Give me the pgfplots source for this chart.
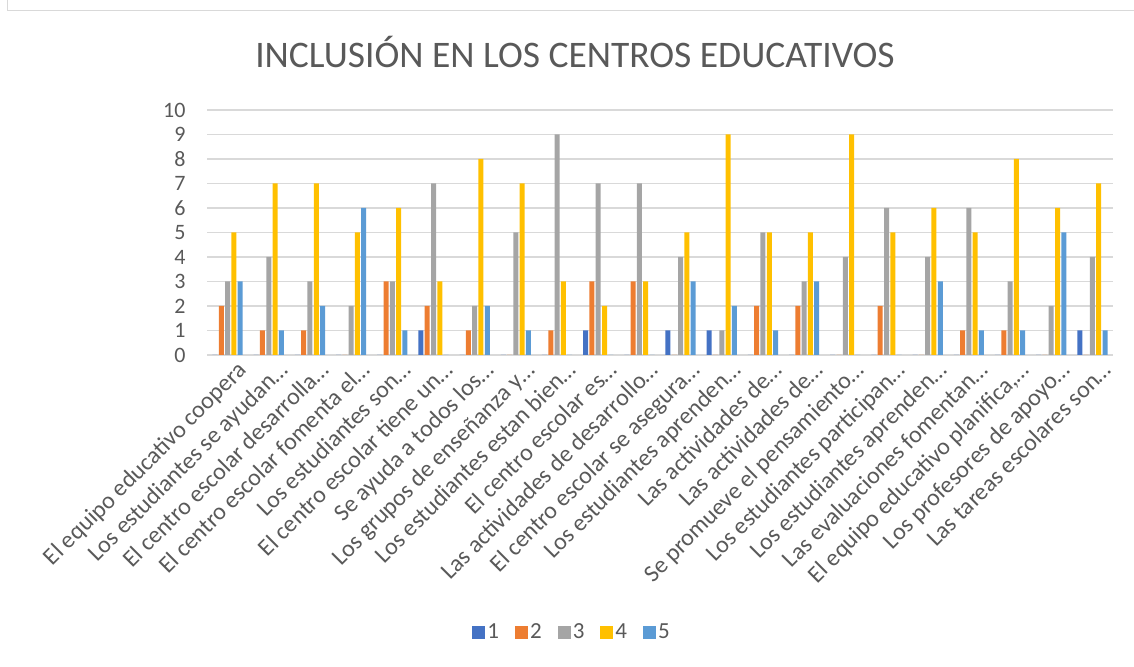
\documentclass[border=0pt]{standalone}
\usepackage{pgfplots}
\pgfplotsset{compat=1.18}
\usepackage{pgfplotstable}
\usepackage{fontspec}
\setmainfont{Carlito}
\definecolor{cA}{HTML}{4472C4}
\definecolor{cB}{HTML}{ED7D31}
\definecolor{cC}{HTML}{A5A5A5}
\definecolor{cD}{HTML}{FFC000}
\definecolor{cE}{HTML}{5B9BD5}
\definecolor{txt}{HTML}{595959}
\definecolor{grd}{HTML}{D9D9D9}
\pgfplotstableread{
x a b c d e
0 0 2 3 5 3
1 0 1 4 7 1
2 0 1 3 7 2
3 0 0 2 5 6
4 0 3 3 6 1
5 1 2 7 3 0
6 0 1 2 8 2
7 0 0 5 7 1
8 0 1 9 3 0
9 1 3 7 2 0
10 0 3 7 3 0
11 1 0 4 5 3
12 1 0 1 9 2
13 0 2 5 5 1
14 0 2 3 5 3
15 0 0 4 9 0
16 0 2 6 5 0
17 0 0 4 6 3
18 0 1 6 5 1
19 0 1 3 8 1
20 0 0 2 6 5
21 1 0 4 7 1
}\datatable
\begin{document}
\begin{tikzpicture}[x=1pt,y=1pt]
\useasboundingbox (0,0) rectangle (1134,666);
\draw[grd, line width=1.2pt] (7.5,666) -- (7.5,655.5) -- (1134,655.5);
\node[txt, font=\fontsize{37.5}{42}\selectfont, anchor=base] at (575,598) {INCLUSIÓN EN LOS CENTROS EDUCATIVOS};
\begin{axis}[
  at={(207pt,311pt)}, anchor=south west,
  scale only axis, width=906pt, height=245pt,
  ybar=1.3pt, bar width=5pt,
  every axis plot post/.append style={legend image code/.code={\node[fill, draw=none, inner sep=0pt, minimum width=13pt, minimum height=13pt] at (6.5pt,0pt) {};}},
  xmin=-0.5, xmax=21.5, ymin=0, ymax=10,
  ytick={0,...,10},
  xtick=data,
  xticklabels={El equipo educativo coopera,Los estudiantes se ayudan…,El centro escolar desarrolla…,El centro escolar fomenta el…,Los estudiantes son…,El centro escolar tiene un…,Se ayuda a todos los…,Los grupos de enseñanza y…,Los estudiantes estan bien…,El centro escolar es…,Las actividades de desarrollo…,El centro escolar se asegura…,Los estudiantes aprenden…,Las actividades de…,Las actividades de…,Se promueve el pensamiento…,Los estudiantes participan…,Los estudiantes aprenden…,Las evaluaciones fomentan…,{El equipo educativo planifica,…},Los profesores de apoyo…,Las tareas escolares son…},
  axis y line*=left,
  y axis line style={draw=none},
  axis x line*=bottom,
  x axis line style={grd, line width=1.2pt, -},
  ymajorgrids, grid style={grd, line width=1.2pt},
  major tick length=0pt,
  tick style={draw=none},
  /pgf/number format/assume math mode=true,
  ticklabel style={txt},
  yticklabel style={font=\fontsize{22}{26}\selectfont, xshift=-18pt},
  xticklabel style={font=\fontsize{24}{28}\selectfont, rotate=45, anchor=north east, inner sep=1pt, xshift=4pt, yshift=-8pt},
  legend style={at={(0.403,-1.131)}, anchor=center, draw=none, fill=none,
    legend columns=-1, font=\fontsize{23}{27}\selectfont, text=txt,
    /tikz/every even column/.append style={column sep=14pt}},
  legend cell align=left,
]
\addplot[fill=cA, draw=none] table[x=x,y=a]{\datatable};
\addplot[fill=cB, draw=none] table[x=x,y=b]{\datatable};
\addplot[fill=cC, draw=none] table[x=x,y=c]{\datatable};
\addplot[fill=cD, draw=none] table[x=x,y=d]{\datatable};
\addplot[fill=cE, draw=none] table[x=x,y=e]{\datatable};
\legend{1,2,3,4,5}
\end{axis}
\end{tikzpicture}
\end{document}
